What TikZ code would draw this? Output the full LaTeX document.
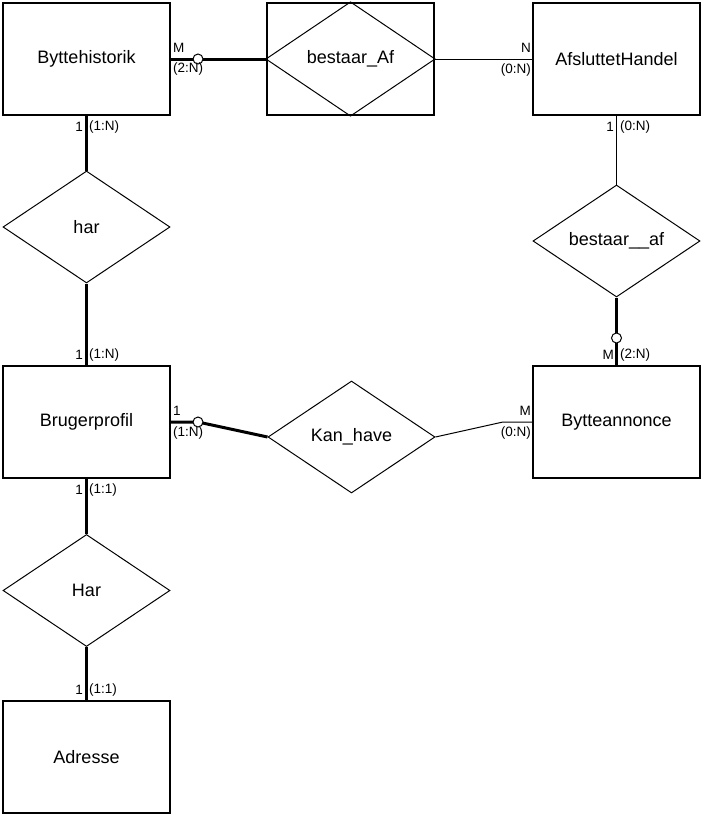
\documentclass[tikz,border=0pt]{standalone}
\usepackage{fontspec}
\setmainfont{Liberation Sans}
\usetikzlibrary{shapes.geometric}
\begin{document}
\begin{tikzpicture}[x=1pt,y=-1pt,
  bigfont/.style={font=\fontsize{18}{20}\selectfont},
  entity/.style={draw,line width=2pt,minimum width=167pt,minimum height=112pt,inner sep=0pt,bigfont},
  rel/.style={draw,diamond,line width=1pt,minimum width=167pt,minimum height=112pt,inner sep=0pt,bigfont},
  strong/.style={line width=3pt},
  weak/.style={line width=1pt},
  circ/.style={circle,draw,fill=white,line width=1pt,minimum size=10pt,inner sep=0pt},
  lbl/.style={font=\fontsize{13.5}{14}\selectfont,inner sep=0pt}]
\useasboundingbox (0,0) rectangle (705,819);
% entities
\node[entity] (BH) at (86.5,59) {Byttehistorik};
\node[entity,bigfont] (BAf) at (350.5,59) {};
\draw[line width=1pt] (BAf.west) -- (BAf.north) -- (BAf.east) -- (BAf.south) -- cycle;
\node[bigfont] (BAftxt) at (BAf.center) {bestaar\_Af};
\node[entity] (AH) at (616.5,59) {AfsluttetHandel};
\node[rel] (har) at (86.5,227) {har};
\node[rel] (baf) at (616.5,241) {bestaar\_\_af};
\node[entity] (BP) at (86.5,422) {Brugerprofil};
\node[rel] (KH) at (351.5,437) {Kan\_have};
\node[entity] (BA) at (616.5,422) {Bytteannonce};
\node[rel] (Har) at (86.5,590.5) {Har};
\node[entity] (AD) at (86.5,757) {Adresse};
% helper coordinates
\coordinate (c1) at (198,59);
\coordinate (c2) at (198,422);
\coordinate (c3) at (616.5,338);
\coordinate (k1) at (503,422);
% connectors
\draw[strong] (BH.east) -- (BAf.west);
\draw[weak] (BAf.east) -- (AH.west);
\draw[strong] (BH.south) -- (har.north);
\draw[strong] (har.south) -- (BP.north);
\draw[weak] (AH.south) -- (baf.north);
\draw[strong] (baf.south) -- (BA.north);
\draw[strong] (BP.east) -- (c2) -- (KH.west);
\draw[weak] (KH.east) -- (k1) -- (BA.west);
\draw[strong] (BP.south) -- (Har.north);
\draw[strong] (Har.south) -- (AD.north);
\node[circ] (o1) at (c1) {};
\node[circ] (o2) at (c2) {};
\node[circ] (o3) at (c3) {};
% labels
\node[lbl,anchor=west] (l1) at (173,48) {M};
\node[lbl,anchor=west] (l2) at (173,69) {(2:N)};
\node[lbl,anchor=east] (l3) at (531,48) {N};
\node[lbl,anchor=east] (l4) at (531,70) {(0:N)};
\node[lbl,anchor=east] (l5) at (83,127) {1};
\node[lbl,anchor=west] (l6) at (89,127) {(1:N)};
\node[lbl,anchor=east] (l7) at (614,127) {1};
\node[lbl,anchor=west] (l8) at (620,127) {(0:N)};
\node[lbl,anchor=east] (l9) at (614,355) {M};
\node[lbl,anchor=west] (l10) at (620,355) {(2:N)};
\node[lbl,anchor=east] (l11) at (83,355) {1};
\node[lbl,anchor=west] (l12) at (89,355) {(1:N)};
\node[lbl,anchor=west] (l13) at (173,411) {1};
\node[lbl,anchor=west] (l14) at (173,433) {(1:N)};
\node[lbl,anchor=east] (l15) at (531,411) {M};
\node[lbl,anchor=east] (l16) at (531,433) {(0:N)};
\node[lbl,anchor=east] (l17) at (83,490) {1};
\node[lbl,anchor=west] (l18) at (89,490) {(1:1)};
\node[lbl,anchor=east] (l19) at (83,690) {1};
\node[lbl,anchor=west] (l20) at (89,690) {(1:1)};
\end{tikzpicture}
\end{document}
